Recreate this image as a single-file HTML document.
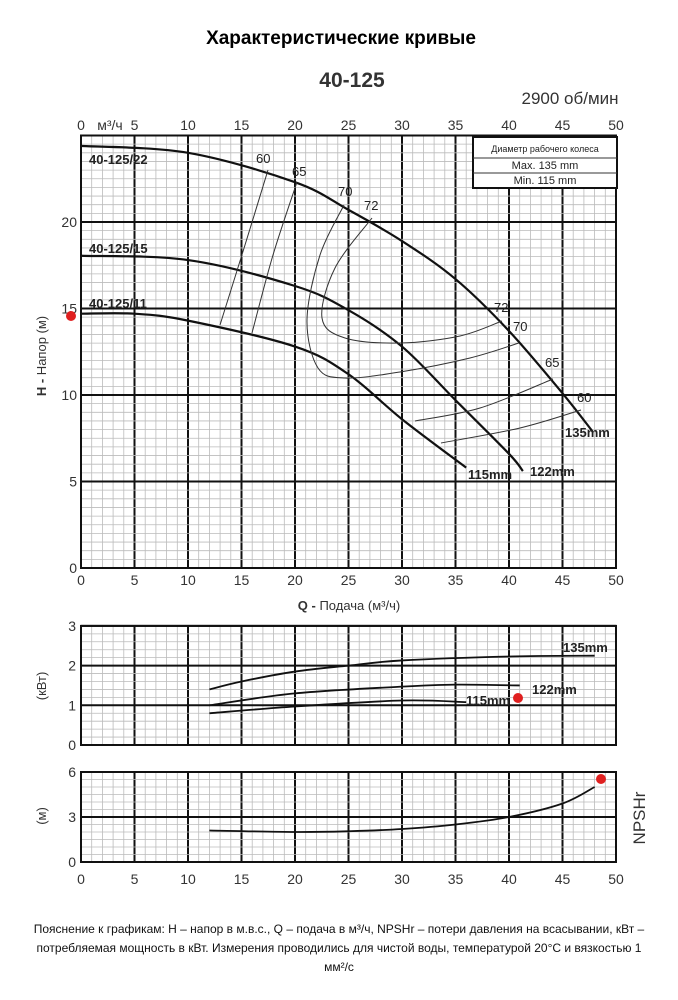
<!DOCTYPE html>
<html><head><meta charset="utf-8"><style>
body{margin:0;background:#fff;width:678px;height:1000px;overflow:hidden;font-family:"Liberation Sans","Noto Sans CJK SC",sans-serif}
svg{position:absolute;left:0;top:0}
.foot{position:absolute;left:0;top:920px;width:678px;text-align:center;font-size:12px;line-height:19px;color:#111;white-space:nowrap}
</style></head><body>
<svg id="s" width="678" height="1000" viewBox="0 0 678 1000" font-family="Liberation Sans, sans-serif">
<text x="341" y="44" text-anchor="middle" font-size="19" font-weight="bold">Характеристические кривые</text>
<text x="352" y="87" text-anchor="middle" font-size="21" font-weight="bold" fill="#333">40-125</text>
<text x="570" y="104" text-anchor="middle" font-size="17" fill="#333">2900 об/мин</text>
</svg>
<div class="foot">Пояснение к графикам: H – напор в м.в.с., Q – подача в м³/ч, NPSHr – потери давления на всасывании, кВт –<br>потребляемая мощность в кВт. Измерения проводились для чистой воды, температурой 20°C и вязкостью 1<br>мм²/с</div>
<script>
const s=document.getElementById('s');const NS='http://www.w3.org/2000/svg';
function el(t,a,txt){const e=document.createElementNS(NS,t);for(const k in a)e.setAttribute(k,a[k]);if(txt!==undefined)e.textContent=txt;s.appendChild(e);return e;}
const X=q=>81+q*10.7;
function grid(yTop,yBot,vmax,minorStep,majorStep){
  for(let q=0;q<=50;q++){const x=X(q);const maj=q%5==0;el('line',{x1:x,x2:x,y1:yTop,y2:yBot,stroke:maj?'#111':'#bbb','stroke-width':maj?2:0.8});}
  const n=Math.floor(vmax/minorStep+1e-6);
  for(let i=0;i<=n;i++){const v=i*minorStep;const y=yBot-(yBot-yTop)*v/vmax;const maj=Math.abs(v/majorStep-Math.round(v/majorStep))<1e-6;
    el('line',{x1:X(0),x2:X(50),y1:y,y2:y,stroke:maj?'#111':'#bbb','stroke-width':maj?2:0.8});}
  el('rect',{x:X(0),y:yTop,width:X(50)-X(0),height:yBot-yTop,fill:'none',stroke:'#111','stroke-width':2});
}
const HY=h=>568-17.3*h;
grid(HY(25),HY(0),25,0.5,5);
for(let h=0;h<=20;h+=5)el('text',{x:77,y:HY(h)+5,'text-anchor':'end','font-size':14,fill:'#333'},h);
for(let q=0;q<=50;q+=5){el('text',{x:X(q),y:585,'text-anchor':'middle','font-size':14,fill:'#333'},q);
  if(q!=0)el('text',{x:X(q),y:130,'text-anchor':'middle','font-size':14,fill:'#333'},q);}
el('text',{x:X(0),y:130,'text-anchor':'middle','font-size':14,fill:'#333'},'0');
el('text',{x:110,y:130,'text-anchor':'middle','font-size':14,fill:'#333'},'м³/ч');
el('text',{x:349,y:610,'text-anchor':'middle','font-size':13,fill:'#333'}).innerHTML='<tspan font-weight="bold">Q - </tspan>Подача (м³/ч)';
el('text',{x:0,y:0,'font-size':13,fill:'#333',transform:'translate(46,356) rotate(-90)','text-anchor':'middle'}).innerHTML='<tspan font-weight="bold">H - </tspan>Напор (м)';
const id=v=>v;
function curve(pts,fx,fy,w,c){
  const P=pts.map(p=>[fx(p[0]),fy(p[1])]);let d='M'+P[0];
  for(let i=0;i<P.length-1;i++){const p0=P[i-1]||P[i],p1=P[i],p2=P[i+1],p3=P[i+2]||p2;
    d+=` C${p1[0]+(p2[0]-p0[0])/6},${p1[1]+(p2[1]-p0[1])/6} ${p2[0]-(p3[0]-p1[0])/6},${p2[1]-(p3[1]-p1[1])/6} ${p2[0]},${p2[1]}`;}
  el('path',{d,fill:'none',stroke:c||'#111','stroke-width':w||2.2});}
curve([[0,24.4],[10,24.0],[20,22.3],[25,20.7],[30,18.9],[35,16.7],[40,13.7],[45,10.1],[47.8,7.9]],X,HY);
curve([[0,18.05],[10,17.8],[20,16.3],[25,14.9],[30,12.8],[35,9.7],[40,6.6],[41.3,5.6]],X,HY);
curve([[0,14.7],[5,14.7],[10,14.3],[20,12.8],[25,11.2],[30,8.6],[36,5.8]],X,HY);
const thin=(pts)=>curve(pts,id,id,1,'#333');
thin([[268,170],[245,245],[220,325]]);
thin([[297,182],[273,255],[252,333]]);
thin([[344,205],[320,255],[307,320],[318,368],[345,378],[400,372],[470,358],[519,343]]);
thin([[372,218],[335,268],[322,318],[345,338],[400,343],[460,336],[502,321]]);
thin([[415,421],[480,408],[553,379]]);
thin([[441,443],[520,428],[581,410]]);
const lab=(x,y,t,sz,b)=>el('text',{x,y,'font-size':sz||13,fill:'#222','font-weight':b?'bold':'normal'},t);
lab(256,163,'60');lab(292,176,'65');lab(338,196,'70');lab(364,210,'72');
lab(494,312,'72');lab(513,331,'70');lab(545,367,'65');lab(577,402,'60');
lab(89,164,'40-125/22',13,1);lab(89,253,'40-125/15',13,1);lab(89,308,'40-125/11',13,1);
lab(565,437,'135mm',13,1);lab(530,476,'122mm',13,1);lab(468,479,'115mm',13,1);
el('rect',{x:473,y:137,width:144,height:51,fill:'#fff',stroke:'#111','stroke-width':2});
el('line',{x1:473,x2:617,y1:158,y2:158,stroke:'#333'});el('line',{x1:473,x2:617,y1:173,y2:173,stroke:'#333'});
el('text',{x:545,y:152,'text-anchor':'middle','font-size':9,fill:'#222'},'Диаметр рабочего колеса');
el('text',{x:545,y:169,'text-anchor':'middle','font-size':11,fill:'#222'},'Max.  135  mm');
el('text',{x:545,y:184,'text-anchor':'middle','font-size':11,fill:'#222'},'Min.   115  mm');
el('circle',{cx:71,cy:316,r:5,fill:'#e02020'});
const PY=p=>745-p*39.7;
grid(PY(3),PY(0),3,0.2,1);
for(let p=0;p<=3;p++)el('text',{x:76,y:PY(p)+5,'text-anchor':'end','font-size':14,fill:'#333'},p);
el('text',{x:0,y:0,'font-size':13,fill:'#333',transform:'translate(46,686) rotate(-90)','text-anchor':'middle'},'(кВт)');
curve([[12,1.4],[15,1.6],[20,1.85],[25,2.0],[30,2.13],[40,2.23],[48,2.25]],X,PY,1.8);
curve([[12,1.0],[20,1.3],[30,1.47],[35,1.52],[41,1.5]],X,PY,1.8);
curve([[12,0.8],[20,0.97],[30,1.12],[36,1.08]],X,PY,1.8);
lab(563,652,'135mm',13,1);lab(532,694,'122mm',13,1);lab(466,705,'115mm',13,1);
el('circle',{cx:518,cy:698,r:5,fill:'#e02020'});
const NY=v=>862-v*15;
grid(NY(6),NY(0),6,0.5,3);
for(let v=0;v<=6;v+=3)el('text',{x:76,y:NY(v)+5,'text-anchor':'end','font-size':14,fill:'#333'},v);
for(let q=0;q<=50;q+=5)el('text',{x:X(q),y:884,'text-anchor':'middle','font-size':14,fill:'#333'},q);
el('text',{x:0,y:0,'font-size':13,fill:'#333',transform:'translate(46,816) rotate(-90)','text-anchor':'middle'},'(м)');
el('text',{x:0,y:0,'font-size':17,fill:'#333',transform:'translate(645,818) rotate(-90)','text-anchor':'middle'},'NPSHr');
curve([[12,2.1],[20,2.0],[25,2.05],[30,2.2],[35,2.5],[40,3.0],[45,3.9],[48,5.0]],X,NY,1.8);
el('circle',{cx:601,cy:779,r:5,fill:'#e02020'});
</script>
</body></html>
